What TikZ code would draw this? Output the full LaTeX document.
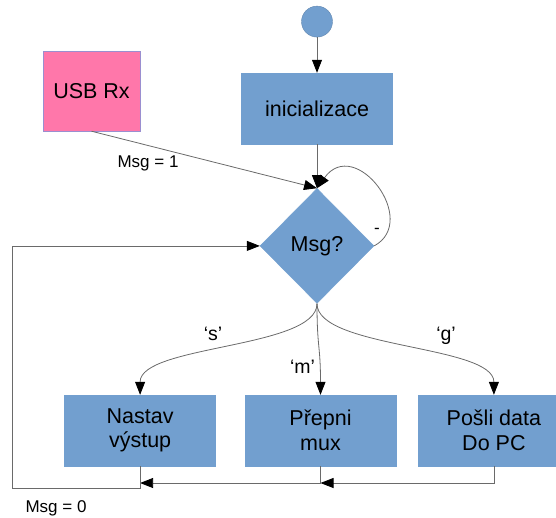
\documentclass[tikz,border=0pt]{standalone}
\usepackage{fontspec}
\setmainfont{Liberation Sans}
\usetikzlibrary{shapes.geometric, arrows.meta, positioning}
\definecolor{boxblue}{HTML}{729FCF}
\definecolor{usbpink}{HTML}{FF77AA}
\definecolor{usbedge}{HTML}{9A8FD0}
\definecolor{linegray}{HTML}{6A6A6A}

\begin{document}
\begin{tikzpicture}[x=1pt, y=-1pt]
\tikzstyle{process}=[rectangle, minimum width=151pt, minimum height=71pt, inner sep=0pt, align=center, draw=boxblue, fill=boxblue, font=\fontsize{21.5}{24.5}\selectfont]
\tikzstyle{source}=[rectangle, minimum width=97pt, minimum height=80pt, inner sep=0pt, draw=usbedge, fill=usbpink, font=\fontsize{21.5}{24.5}\selectfont]
\tikzstyle{decision}=[diamond, minimum width=114pt, minimum height=115pt, inner sep=0pt, draw=boxblue, fill=boxblue, font=\fontsize{21.5}{24.5}\selectfont]
\tikzstyle{startnode}=[circle, minimum size=31pt, inner sep=0pt, draw=boxblue!85!black, fill=boxblue]
\tikzstyle{edgetext}=[inner sep=0pt, font=\fontsize{17}{20}\selectfont]
\tikzstyle{quote}=[inner sep=0pt, font=\fontsize{19.5}{22}\selectfont]
\tikzstyle{arrow}=[->, >={Triangle[length=13pt, width=10pt, color=black]}, draw=linegray, line width=0.8pt]
\tikzstyle{wire}=[draw=linegray, line width=0.8pt]

\useasboundingbox (0,0) rectangle (556,517);
\clip (0,0) rectangle (556,517);

\node (init) [process] at (317,108.5) {inicializace};
\node (start) [startnode, above=35.5pt of init] {};
\node (usb) [source] at (91.5,91) {USB Rx};
\node (msg) [decision, below=44pt of init] {Msg?};
\node (mux) [process] at (320.5,430.5) {Přepni\\mux};
\node (nastav) [process, left=29pt of mux] {Nastav\\výstup};
\node (posli) [process, right=22pt of mux] {Pošli data\\Do PC};

\node (msg1) [edgetext] at (148,163) {Msg = 1};
\node (msg0) [edgetext] at (56,508.5) {Msg = 0};
\node (none) [edgetext] at (377,231) {-};
\node (ks) [quote] at (213,333.5) {‘s’};
\node (km) [quote] at (302.5,367) {‘m’};
\node (kg) [quote] at (446,336) {‘g’};

\coordinate (jp) at (posli.south |- 0,483);
\coordinate (jm) at (mux.south |- 0,483);
\coordinate (jn) at (nastav.south |- 0,483);
\coordinate (jc) at (nastav.south |- 0,488);
\coordinate (jl) at (12.5,488);

\draw [arrow] (start) -- (init);
\draw [arrow] (init) -- (msg);
\draw [arrow] (usb.south) -- (msg.north);
\draw [arrow] (msg.east) .. controls +(46,-25) and +(38,-53) .. (msg.north);
\draw [arrow] (msg.south) .. controls +(0,45) and +(0,-50) .. (nastav.north);
\draw [arrow] (msg.south) .. controls +(0,45) and +(0,-50) .. (mux.north);
\draw [arrow] (msg.south) .. controls +(0,45) and +(0,-50) .. (posli.north);
\draw [arrow] (posli.south) -- (jp) -- (jm);
\draw [wire] (mux.south) -- (jm);
\draw [arrow] (jm) -- (jn);
\draw [arrow] (nastav.south) -- (jc) -- (jl) |- (msg.west);

\end{tikzpicture}
\end{document}
